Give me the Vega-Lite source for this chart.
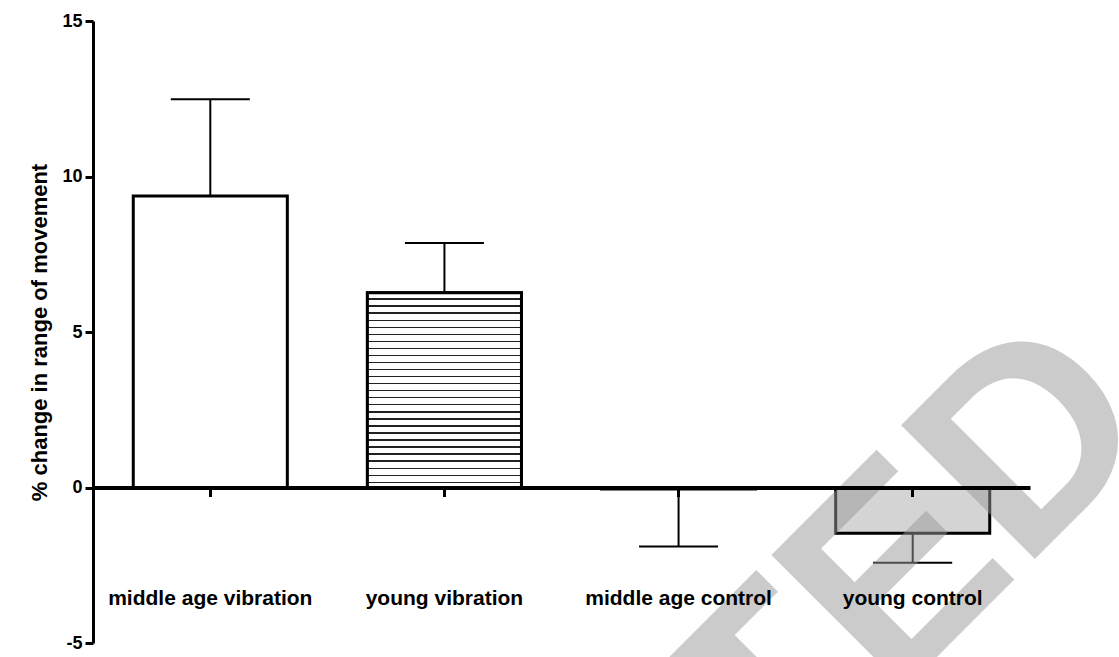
{
  "$schema": "https://vega.github.io/schema/vega-lite/v6.json",
  "autosize": {"type": "none"},
  "padding": {"left": 93, "top": 21, "right": 89, "bottom": 14},
  "width": 937,
  "height": 622,
  "background": "white",
  "config": {"view": {"stroke": null}, "font": "Liberation Sans"},
  "data": {"values": [
    {"group": "middle age vibration", "mean": 9.37, "errEnd": 12.48},
    {"group": "young vibration", "mean": 6.26, "errEnd": 7.86},
    {"group": "middle age control", "mean": -0.05, "errEnd": -1.9},
    {"group": "young control", "mean": -1.47, "errEnd": -2.42}
  ]},
  "encoding": {
    "x": {
      "field": "group", "type": "nominal", "sort": null,
      "scale": {"paddingInner": 0.342, "paddingOuter": 0.172},
      "axis": {
        "title": null, "orient": "bottom", "offset": -155.5, "zindex": 1,
        "domainColor": "black", "domainWidth": 4,
        "tickColor": "black", "tickWidth": 3, "tickSize": 9,
        "labelAngle": 0, "labelFont": "Liberation Sans", "labelFontWeight": "bold", "labelFontSize": 21,
        "labelColor": "black", "labelBaseline": "alphabetic", "labelPadding": 107.5, "labelLimit": 400
      }
    }
  },
  "layer": [
    {
      "mark": {"type": "rule", "color": "black", "strokeWidth": 2},
      "encoding": {
        "y": {"field": "mean", "type": "quantitative"},
        "y2": {"field": "errEnd"}
      }
    },
    {
      "mark": {"type": "tick", "color": "black", "thickness": 2, "size": 79, "orient": "horizontal", "opacity": 1},
      "encoding": {
        "y": {"field": "errEnd", "type": "quantitative"}
      }
    },
    {
      "mark": {"type": "bar", "stroke": "black", "strokeWidth": 3},
      "encoding": {
        "y": {
          "field": "mean", "type": "quantitative",
          "scale": {"domain": [-5, 15], "nice": false},
          "axis": {
            "title": "% change in range of movement", "values": [-5, 0, 5, 10, 15],
            "labelExpr": "'' + datum.value",
            "grid": false, "domainColor": "black", "domainWidth": 3,
            "tickColor": "black", "tickWidth": 3, "tickSize": 8,
            "labelFont": "Liberation Sans", "labelFontWeight": "bold", "labelFontSize": 18, "labelColor": "black", "labelPadding": 3,
            "titleFont": "Liberation Sans", "titleFontWeight": "bold", "titleFontSize": 22, "titleColor": "black", "titlePadding": 10
          }
        },
        "fill": {
          "condition": {"test": "datum.group === 'young control'", "value": "#d4d4d4"},
          "value": "white"
        }
      }
    },
    {
      "transform": [{"filter": "datum.group === 'young vibration'"}],
      "mark": {
        "type": "bar", "stroke": "black", "strokeWidth": 3,
        "fill": {
          "gradient": "linear", "x1": 0, "y1": 0, "x2": 0, "y2": 1,
          "stops": [
            {"offset": 0, "color": "white"},
            {"offset": 0.0287, "color": "white"}, {"offset": 0.0287, "color": "#222222"}, {"offset": 0.0359, "color": "#222222"}, {"offset": 0.0359, "color": "white"},
            {"offset": 0.0649, "color": "white"}, {"offset": 0.0649, "color": "#222222"}, {"offset": 0.0721, "color": "#222222"}, {"offset": 0.0721, "color": "white"},
            {"offset": 0.1011, "color": "white"}, {"offset": 0.1011, "color": "#222222"}, {"offset": 0.1083, "color": "#222222"}, {"offset": 0.1083, "color": "white"},
            {"offset": 0.1373, "color": "white"}, {"offset": 0.1373, "color": "#222222"}, {"offset": 0.1445, "color": "#222222"}, {"offset": 0.1445, "color": "white"},
            {"offset": 0.1735, "color": "white"}, {"offset": 0.1735, "color": "#222222"}, {"offset": 0.1807, "color": "#222222"}, {"offset": 0.1807, "color": "white"},
            {"offset": 0.2097, "color": "white"}, {"offset": 0.2097, "color": "#222222"}, {"offset": 0.2169, "color": "#222222"}, {"offset": 0.2169, "color": "white"},
            {"offset": 0.2459, "color": "white"}, {"offset": 0.2459, "color": "#222222"}, {"offset": 0.2531, "color": "#222222"}, {"offset": 0.2531, "color": "white"},
            {"offset": 0.2821, "color": "white"}, {"offset": 0.2821, "color": "#222222"}, {"offset": 0.2893, "color": "#222222"}, {"offset": 0.2893, "color": "white"},
            {"offset": 0.3183, "color": "white"}, {"offset": 0.3183, "color": "#222222"}, {"offset": 0.3255, "color": "#222222"}, {"offset": 0.3255, "color": "white"},
            {"offset": 0.3545, "color": "white"}, {"offset": 0.3545, "color": "#222222"}, {"offset": 0.3617, "color": "#222222"}, {"offset": 0.3617, "color": "white"},
            {"offset": 0.3907, "color": "white"}, {"offset": 0.3907, "color": "#222222"}, {"offset": 0.3979, "color": "#222222"}, {"offset": 0.3979, "color": "white"},
            {"offset": 0.4268, "color": "white"}, {"offset": 0.4268, "color": "#222222"}, {"offset": 0.4340, "color": "#222222"}, {"offset": 0.4340, "color": "white"},
            {"offset": 0.4630, "color": "white"}, {"offset": 0.4630, "color": "#222222"}, {"offset": 0.4702, "color": "#222222"}, {"offset": 0.4702, "color": "white"},
            {"offset": 0.4992, "color": "white"}, {"offset": 0.4992, "color": "#222222"}, {"offset": 0.5064, "color": "#222222"}, {"offset": 0.5064, "color": "white"},
            {"offset": 0.5354, "color": "white"}, {"offset": 0.5354, "color": "#222222"}, {"offset": 0.5426, "color": "#222222"}, {"offset": 0.5426, "color": "white"},
            {"offset": 0.5716, "color": "white"}, {"offset": 0.5716, "color": "#222222"}, {"offset": 0.5788, "color": "#222222"}, {"offset": 0.5788, "color": "white"},
            {"offset": 0.6078, "color": "white"}, {"offset": 0.6078, "color": "#222222"}, {"offset": 0.6150, "color": "#222222"}, {"offset": 0.6150, "color": "white"},
            {"offset": 0.6440, "color": "white"}, {"offset": 0.6440, "color": "#222222"}, {"offset": 0.6512, "color": "#222222"}, {"offset": 0.6512, "color": "white"},
            {"offset": 0.6802, "color": "white"}, {"offset": 0.6802, "color": "#222222"}, {"offset": 0.6874, "color": "#222222"}, {"offset": 0.6874, "color": "white"},
            {"offset": 0.7164, "color": "white"}, {"offset": 0.7164, "color": "#222222"}, {"offset": 0.7236, "color": "#222222"}, {"offset": 0.7236, "color": "white"},
            {"offset": 0.7526, "color": "white"}, {"offset": 0.7526, "color": "#222222"}, {"offset": 0.7598, "color": "#222222"}, {"offset": 0.7598, "color": "white"},
            {"offset": 0.7888, "color": "white"}, {"offset": 0.7888, "color": "#222222"}, {"offset": 0.7960, "color": "#222222"}, {"offset": 0.7960, "color": "white"},
            {"offset": 0.8249, "color": "white"}, {"offset": 0.8249, "color": "#222222"}, {"offset": 0.8321, "color": "#222222"}, {"offset": 0.8321, "color": "white"},
            {"offset": 0.8611, "color": "white"}, {"offset": 0.8611, "color": "#222222"}, {"offset": 0.8683, "color": "#222222"}, {"offset": 0.8683, "color": "white"},
            {"offset": 0.8973, "color": "white"}, {"offset": 0.8973, "color": "#222222"}, {"offset": 0.9045, "color": "#222222"}, {"offset": 0.9045, "color": "white"},
            {"offset": 0.9335, "color": "white"}, {"offset": 0.9335, "color": "#222222"}, {"offset": 0.9407, "color": "#222222"}, {"offset": 0.9407, "color": "white"},
            {"offset": 0.9697, "color": "white"}, {"offset": 0.9697, "color": "#222222"}, {"offset": 0.9769, "color": "#222222"}, {"offset": 0.9769, "color": "white"},
            {"offset": 1, "color": "white"}
          ]
        }
      },
      "encoding": {
        "y": {"field": "mean", "type": "quantitative"}
      }
    },
    {
      "data": {"values": [{"label": "TED"}]},
      "mark": {
        "type": "text", "font": "Liberation Sans", "fontWeight": "bold", "fontSize": 275,
        "angle": 315, "align": "center", "baseline": "alphabetic", "dx": 29, "dy": 49,
        "fill": "#999999", "opacity": 0.5
      },
      "encoding": {
        "x": {"datum": "young control"},
        "y": {"datum": -4},
        "text": {"field": "label"}
      }
    }
  ]
}
